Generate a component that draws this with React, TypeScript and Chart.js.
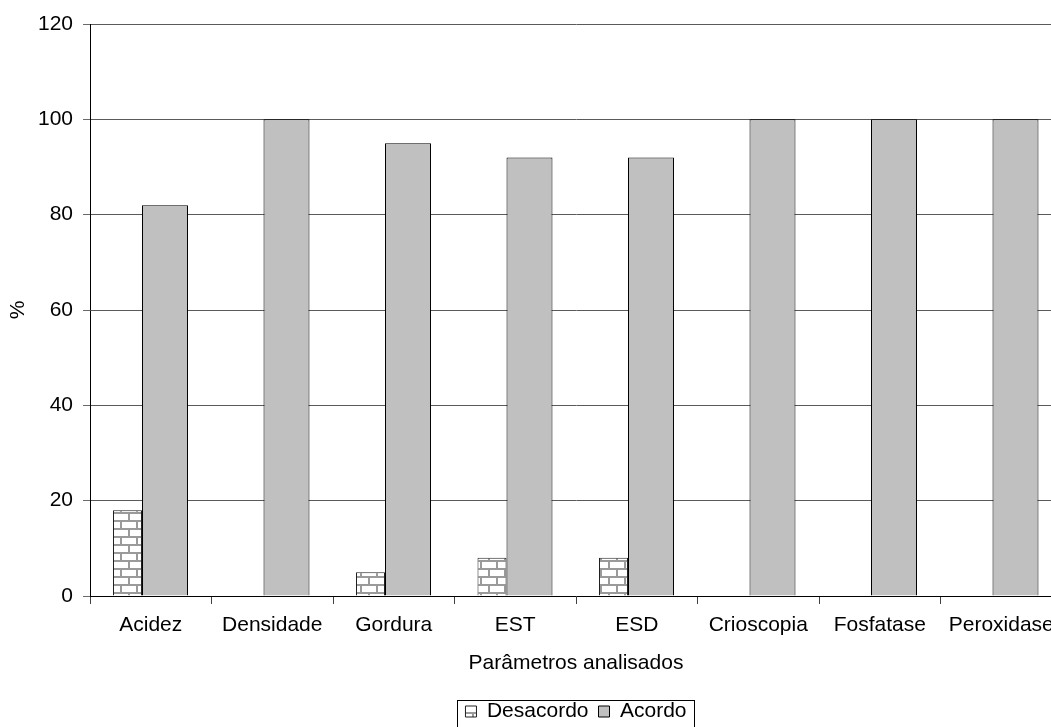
import React, { useEffect, useRef } from "react";
import { Chart, registerables } from "chart.js";

Chart.register(...registerables);

const categories = ["Acidez", "Densidade", "Gordura", "EST", "ESD", "Crioscopia", "Fosfatase", "Peroxidase"];
const desacordoValues = [18, 0, 5, 8, 8, 0, 0, 0];
const acordoValues = [82, 100, 95, 92, 92, 100, 100, 100];
const seriesNames = ["Desacordo", "Acordo"];
const yAxisTitle = "%";
const xAxisTitle = "Parâmetros analisados";
const yMin = 0;
const yMax = 120;
const yStep = 20;

const FONT = "'Liberation Sans', Arial, sans-serif";

function makeBrickPattern(ctx: CanvasRenderingContext2D): CanvasPattern | string {
  const c = document.createElement("canvas");
  c.width = 16;
  c.height = 16;
  const g = c.getContext("2d");
  if (!g) return "#ffffff";
  g.fillStyle = "#ffffff";
  g.fillRect(0, 0, 16, 16);
  g.fillStyle = "#9a9a9a";
  g.fillRect(0, 0, 16, 2);
  g.fillRect(0, 8, 16, 2);
  g.fillRect(0, 2, 2, 6);
  g.fillRect(8, 10, 2, 6);
  const p = ctx.createPattern(c, "repeat");
  return p || "#ffffff";
}

const legendBorder = {
  id: "legendBorder",
  afterDraw(chart: any) {
    const lg = chart.legend;
    if (!lg || !lg.legendHitBoxes || !lg.legendHitBoxes.length) return;
    const boxes = lg.legendHitBoxes;
    const left = Math.min(...boxes.map((b: any) => b.left)) - 8;
    const right = Math.max(...boxes.map((b: any) => b.left + b.width)) + 8;
    const top = boxes[0].top - 1;
    const ctx = chart.ctx;
    ctx.save();
    ctx.strokeStyle = "#000000";
    ctx.lineWidth = 1;
    ctx.strokeRect(Math.round(left) + 0.5, Math.round(top) + 0.5, Math.round(right - left), 80);
    ctx.restore();
  },
};

export default function App() {
  const ref = useRef<HTMLCanvasElement | null>(null);

  useEffect(() => {
    const canvas = ref.current;
    if (!canvas) return;
    const ctx = canvas.getContext("2d");
    if (!ctx) return;
    const brick = makeBrickPattern(ctx);

    const chart = new Chart(ctx, {
      type: "bar",
      data: {
        labels: categories,
        datasets: [
          {
            label: seriesNames[0],
            data: desacordoValues,
            backgroundColor: brick as any,
            borderColor: "#202020",
            borderWidth: 1,
            categoryPercentage: 0.7654,
            barPercentage: 0.6237,
          } as any,
          {
            label: seriesNames[1],
            data: acordoValues,
            backgroundColor: "#C0C0C0",
            borderColor: "#000000",
            borderWidth: 1,
            categoryPercentage: 0.469,
            barPercentage: 1.614,
          } as any,
        ],
      },
      options: {
        responsive: false,
        animation: false,
        layout: { padding: { left: 0, top: 24, right: 18, bottom: 2 } },
        plugins: {
          tooltip: { enabled: false },
          legend: {
            position: "bottom",
            fullSize: false,
            labels: {
              boxWidth: 11,
              boxHeight: 11,
              padding: 10,
              color: "#000000",
              font: { family: FONT, size: 21 },
            },
          },
        },
        scales: {
          x: {
            offset: true,
            grid: {
              drawOnChartArea: false,
              drawTicks: true,
              tickLength: 8,
              tickColor: "#404040",
              offset: true,
            },
            border: { color: "#000000", width: 1 },
            ticks: {
              color: "#000000",
              font: { family: FONT, size: 21 },
              padding: 9,
              maxRotation: 0,
              autoSkip: false,
            },
            title: {
              display: true,
              text: xAxisTitle,
              color: "#000000",
              font: { family: FONT, size: 21 },
              padding: { top: 0, bottom: 15 },
            },
            afterFit(scale: any) {
              scale.height = 95;
            },
          },
          y: {
            min: yMin,
            max: yMax,
            grid: {
              color: (c: any) => (c.tick && c.tick.value === 0 ? "rgba(0,0,0,0)" : "#5a5a5a"),
              tickColor: "#6a6a6a",
              tickLength: 7,
              lineWidth: 1,
            },
            border: { color: "#000000", width: 1 },
            ticks: {
              stepSize: yStep,
              color: "#000000",
              font: { family: FONT, size: 21 },
              padding: 10,
            },
            title: {
              display: true,
              text: yAxisTitle,
              color: "#000000",
              font: { family: FONT, size: 21 },
              padding: { top: 6, bottom: 0 },
            },
            afterFit(scale: any) {
              scale.width = 90;
            },
          },
        },
      },
      plugins: [legendBorder],
    } as any);

    return () => {
      chart.destroy();
    };
  }, []);

  return (
    <div
      style={{
        position: "fixed",
        left: 0,
        top: 0,
        width: 1051,
        height: 727,
        overflow: "hidden",
        background: "#ffffff",
      }}
    >
      <canvas ref={ref} width={1080} height={734} style={{ display: "block", width: 1080, height: 734 }} />
    </div>
  );
}
